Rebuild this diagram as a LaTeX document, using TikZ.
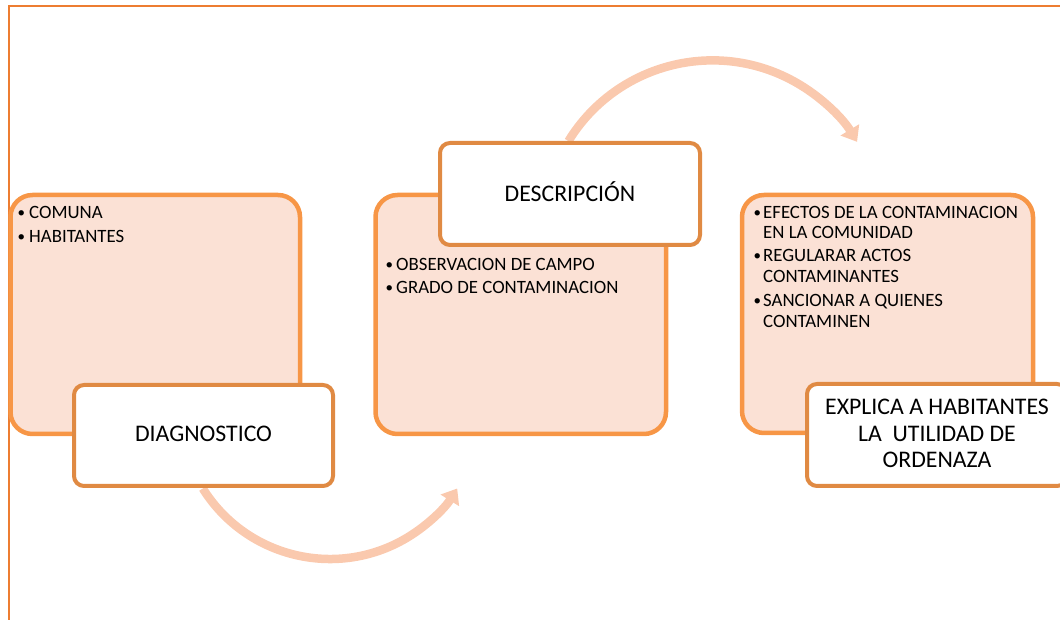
\documentclass[tikz,border=0pt]{standalone}
\usepackage{fontspec}
\setmainfont{Carlito}
\usetikzlibrary{arrows.meta}
\definecolor{framec}{RGB}{237,125,49}
\definecolor{bigline}{RGB}{247,150,70}
\definecolor{bigfill}{RGB}{251,225,213}
\definecolor{smallline}{RGB}{224,138,67}
\definecolor{arrowc}{RGB}{250,201,174}
\tikzset{
  bigbox/.style={draw=bigline, fill=bigfill, line width=4.5pt, rounded corners=22pt, inner sep=0pt},
  smallbox/.style={draw=smallline, fill=white, line width=4pt, rounded corners=10pt, inner sep=0pt},
  bullettxt/.style={anchor=base west, inner sep=0pt, font=\fontsize{18.8}{22}\selectfont},
  bulletmark/.style={anchor=base west, inner sep=0pt, font=\fontsize{15}{18}\selectfont},
  bigtxt/.style={anchor=base, inner sep=0pt, font=\fontsize{23.8}{28}\selectfont},
  flow/.style={draw=arrowc, line width=8.5pt, -{Triangle[width=21pt,length=14pt]}},
}
\begin{document}
\begin{tikzpicture}[x=1pt,y=1pt]
\useasboundingbox (0,0) rectangle (1060,620);
\clip (0,0) rectangle (1060,620);
% frame
\draw[framec, line width=2pt] (8.5,-2) -- (8.5,613.5) -- (1065,613.5);
% connectors (coordinates on the arcs)
\coordinate (a1s) at ({330+150*cos(212)},{211+150*sin(212)});
\coordinate (a2s) at ({712.5+169*cos(148.5)},{390.6+169*sin(148.5)});
\draw[flow] (a1s) arc[start angle=212, end angle=328, radius=150] coordinate (a1e);
\draw[flow] (a2s) arc[start angle=148.5, end angle=31.2, radius=169] coordinate (a2e);
% big boxes
\node[bigbox, minimum width=289.5pt, minimum height=239pt] (b1) at (155.25,305.5) {};
\node[bigbox, minimum width=290.5pt, minimum height=239pt] (b2) at (520.75,305.5) {};
\node[bigbox, minimum width=291pt, minimum height=238pt] (b3) at (887.5,306) {};
% small boxes
\node[smallbox, minimum width=259pt, minimum height=101pt] (s1) at (203.5,184.5) {};
\node[smallbox, minimum width=260pt, minimum height=102pt] (s2) at (570,426) {};
\node[smallbox, minimum width=260pt, minimum height=102pt] (s3) at (937,185) {};
% bullet texts box 1
\node[bulletmark] (t11b) at (17.5,402) {•};
\node[bullettxt] (t11) at (29,401) {COMUNA};
\node[bulletmark] (t12b) at (17.5,378) {•};
\node[bullettxt] (t12) at (29,377) {HABITANTES};
% box 2
\node[bulletmark] (t21b) at (385.5,350) {•};
\node[bullettxt] (t21) at (396,349) {OBSERVACION DE CAMPO};
\node[bulletmark] (t22b) at (385.5,327) {•};
\node[bullettxt] (t22) at (396,326) {GRADO DE CONTAMINACION};
% box 3
\node[bulletmark] (t31b) at (753.5,402) {•};
\node[bullettxt] (t31) at (763,401) {EFECTOS DE LA CONTAMINACION};
\node[bullettxt] (t31c) at (763,381) {EN LA COMUNIDAD};
\node[bulletmark] (t32b) at (753.5,359) {•};
\node[bullettxt] (t32) at (763,358) {REGULARAR ACTOS};
\node[bullettxt] (t32c) at (763,337) {CONTAMINANTES};
\node[bulletmark] (t33b) at (753.5,314) {•};
\node[bullettxt] (t33) at (763,313) {SANCIONAR A QUIENES};
\node[bullettxt] (t33c) at (763,292) {CONTAMINEN};
% small box labels
\node[bigtxt] (l1) at (203.5,178) {DIAGNOSTICO};
\node[bigtxt] (l2) at (570,418) {DESCRIPCIÓN};
\node[bigtxt] (l3a) at (937,205) {EXPLICA A HABITANTES};
\node[bigtxt] (l3b) at (937,178) {LA\ \ UTILIDAD DE};
\node[bigtxt] (l3c) at (937,152) {ORDENAZA};
\end{tikzpicture}
\end{document}
